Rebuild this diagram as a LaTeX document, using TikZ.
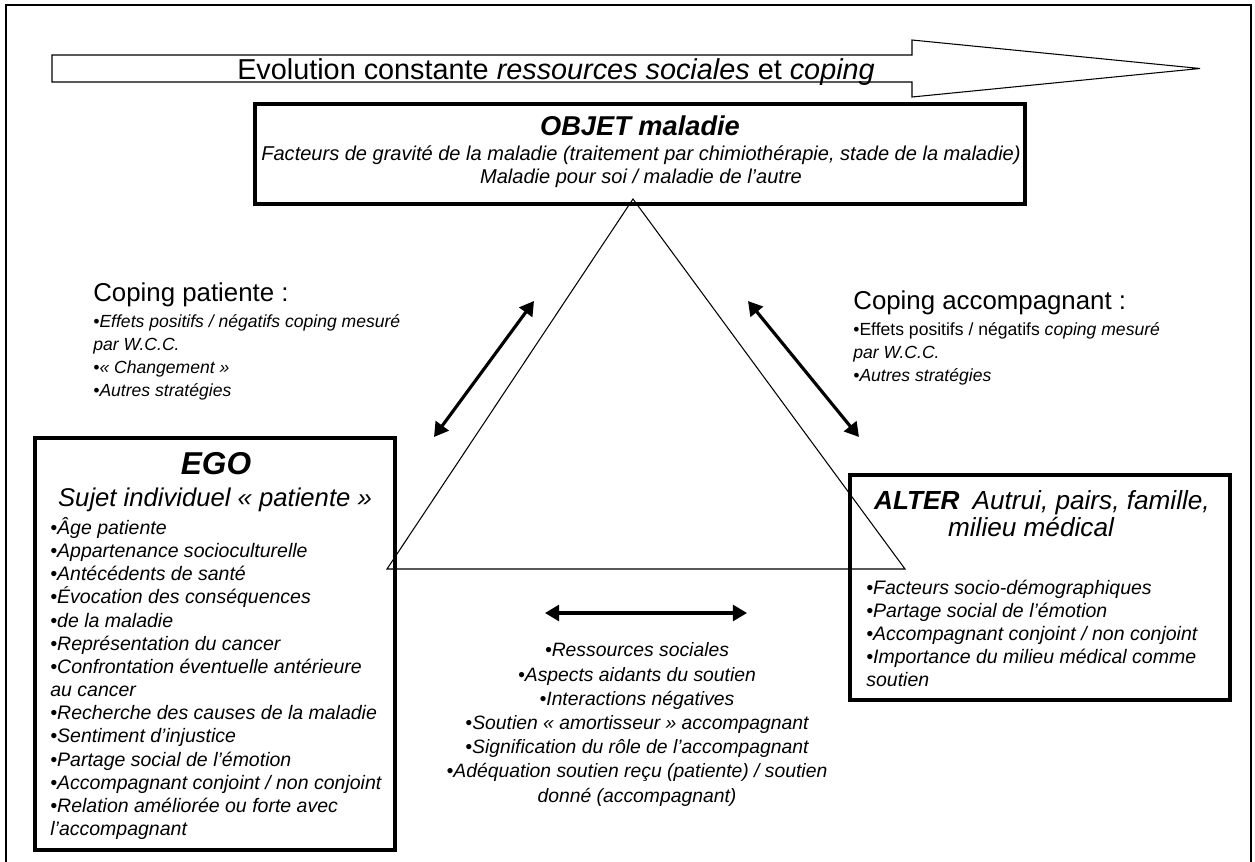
\documentclass[tikz,border=0pt]{standalone}
\usepackage{fontspec}
\setmainfont{Liberation Sans}
\usepackage{tikz}
\usetikzlibrary{arrows.meta,fit,positioning}
\tikzset{
  bigbox/.style={draw=black,line width=2.2pt,inner sep=0pt},
  thinline/.style={draw=black,line width=0.6pt},
  twoway/.style={draw=black,line width=1.8pt,
                 >={Triangle[length=8pt,width=9pt]},<->},
  headtxt/.style={inner sep=0pt,font=\fontsize{14.7}{17}\selectfont},
  bodytxt/.style={inner sep=0pt,align=left,font=\fontsize{11.1}{13.2}\selectfont\itshape},
  notetxt/.style={inner sep=0pt,align=left,font=\fontsize{10}{13}\selectfont\itshape},
  midtxt/.style={inner sep=0pt,align=center,font=\fontsize{11}{13.8}\selectfont\itshape},
}

\begin{document}
\begin{tikzpicture}[x=0.02cm,y=-0.02cm]
    \useasboundingbox (0,0) rectangle (1255,862);
    \draw[line width=1.5pt] (6,880) -- (6,5) -- (1251,5) -- (1251,880);
    \draw[thinline] (52,55) -- (912,55) -- (912,40) -- (1200,68.5)
      -- (912,97) -- (912,82) -- (52,82) -- cycle;
    \node[anchor=base,inner sep=0pt,font=\fontsize{16.4}{19}\selectfont] (evol) at (556,79)
      {Evolution constante \textit{ressources sociales} et \textit{coping}};

    \node[bigbox,fit={(255,104) (1025,204)}] (objet) {};
    \node[headtxt,font=\fontsize{15.5}{18}\selectfont\bfseries\itshape] (objettitle) at (640,126) {OBJET maladie};
    \node[bodytxt,align=center,font=\fontsize{11.4}{13.2}\selectfont\itshape] (objetbody) at (641,166.5)
      {Facteurs de gravité de la maladie (traitement par chimiothérapie, stade de la maladie)\\
       Maladie pour soi / maladie de l’autre};

    \coordinate (apex) at (633,199);
    \coordinate (baseL) at (387,569);
    \coordinate (baseR) at (905,569);
    \draw[thinline] (apex) -- (baseL) -- (baseR) -- cycle;

    \node[bigbox,fit={(35,438) (395,850)}] (ego) {};
    \node[headtxt,font=\fontsize{18}{21}\selectfont\bfseries\itshape] (egotitle) at (216,464) {EGO};
    \node[headtxt,font=\fontsize{14.6}{17}\selectfont\itshape] (egosub) at (215,500) {Sujet individuel « patiente »};
    \node[bodytxt,anchor=west] (egolist) at (50,678.5)
      {•Âge patiente\\
       •Appartenance socioculturelle\\
       •Antécédents de santé\\
       •Évocation des conséquences\\
       •de la maladie\\
       •Représentation du cancer\\
       •Confrontation éventuelle antérieure\\
       au cancer\\
       •Recherche des causes de la maladie\\
       •Sentiment d’injustice\\
       •Partage social de l’émotion\\
       •Accompagnant conjoint / non conjoint\\
       •Relation améliorée ou forte avec\\
       l’accompagnant};

    \node[bigbox,fit={(850,475) (1230,700)}] (alter) {};
    \node[headtxt,font=\fontsize{14.9}{17}\selectfont\itshape] (altertitle) at (1042,503)
      {\textbf{ALTER}\enspace Autrui, pairs, famille,};
    \node[headtxt,font=\fontsize{14.9}{17}\selectfont\itshape] (altersub) at (1031,527) {milieu médical};
    \node[bodytxt,anchor=west] (alterlist) at (866,633.5)
      {•Facteurs socio-démographiques\\
       •Partage social de l’émotion\\
       •Accompagnant conjoint / non conjoint\\
       •Importance du milieu médical comme\\
       soutien};

    \node[headtxt,anchor=west] (copingpat) at (93,295) {Coping patiente :};
    \node[notetxt,anchor=west] (copingpatlist) at (93,357.5)
      {•Effets positifs / négatifs coping mesuré\\
       par W.C.C.\\
       •« Changement »\\
       •Autres stratégies};

    \node[headtxt,anchor=west] (copingacc) at (853,303) {Coping accompagnant :};
    \node[notetxt,anchor=west] (copingacclist) at (853,354)
      {\upshape •Effets positifs / négatifs \itshape coping mesuré\\
       par W.C.C.\\
       •Autres stratégies};

    \coordinate (patlow) at (434,437);
    \coordinate (pathigh) at (534,301);
    \coordinate (acchigh) at (748,301);
    \coordinate (acclow) at (859,437);
    \coordinate (midleft) at (545,613);
    \coordinate (midright) at (747,613);
    \draw[twoway] (patlow) -- (pathigh);
    \draw[twoway] (acchigh) -- (acclow);
    \draw[twoway] (midleft) -- (midright);

    \node[midtxt] (midlist) at (637,724.5)
      {•Ressources sociales\\
       •Aspects aidants du soutien\\
       •Interactions négatives\\
       •Soutien « amortisseur » accompagnant\\
       •Signification du rôle de l’accompagnant\\
       •Adéquation soutien reçu (patiente) / soutien\\
       donné (accompagnant)};
\end{tikzpicture}
\end{document}
